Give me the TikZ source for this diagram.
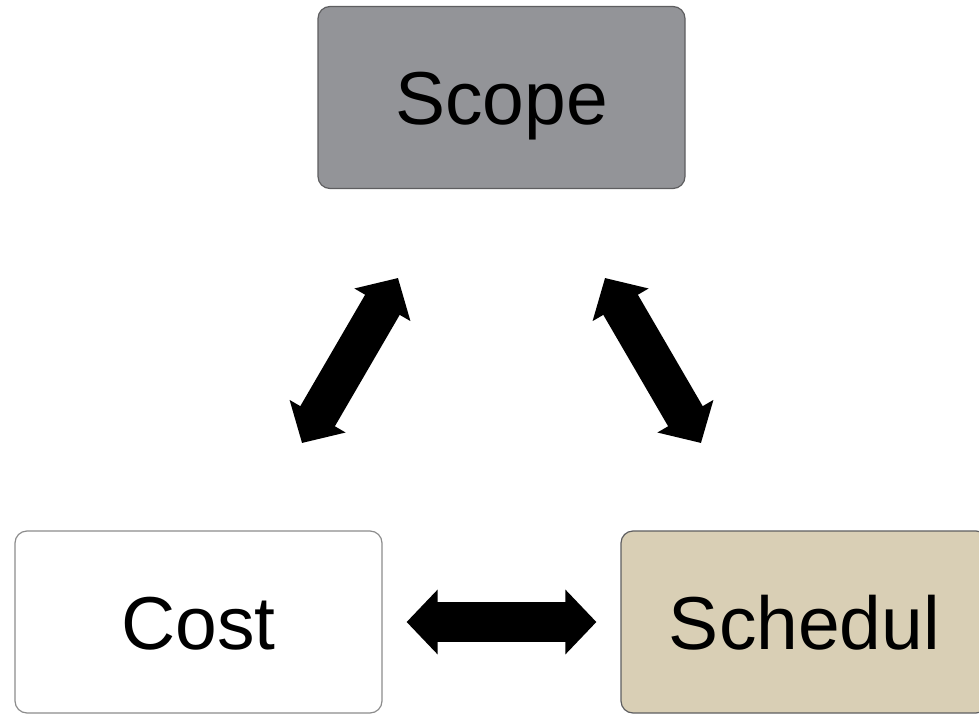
\documentclass[tikz,border=0pt]{standalone}
\usepackage{fontspec}
\setmainfont{Liberation Sans}
\usetikzlibrary{arrows.meta}

\definecolor{scopegray}{HTML}{939498}
\definecolor{schedtan}{HTML}{D9CFB5}
\definecolor{edgedark}{HTML}{5E5E60}
\definecolor{edgelight}{HTML}{8C8C8C}

\tikzset{
  box/.style={draw=edgedark, line width=1.2pt, rounded corners=12pt,
    minimum width=367pt, minimum height=182pt, inner sep=0pt,
    text height=54pt, text depth=0pt,
    font=\fontsize{75}{80}\selectfont},
  blockarrow/.style={line width=40pt,
    {Triangle[length=31pt,width=63pt]}-{Triangle[length=31pt,width=63pt]}}
}

\begin{document}
\begin{tikzpicture}[x=1pt,y=-1pt]
  \useasboundingbox (0,0) rectangle (979,714);

  % the three constraints
  \node[box, fill=scopegray] (scope) at (501.5,97.5) {Scope};
  \node[box, fill=white, draw=edgelight] (cost) at (198.5,622) {Cost};
  \node[box, fill=schedtan] (sched) at (804.5,622) {Schedul};

  % ends of the diagonal block arrows
  \coordinate (costtop) at (302,443);
  \coordinate (scopeleft) at (398,278);
  \coordinate (scoperight) at (605,278);
  \coordinate (schedtop) at (701,443);

  % two-way trade-off arrows
  \draw[blockarrow] (costtop) -- (scopeleft);
  \draw[blockarrow] (scoperight) -- (schedtop);
  \draw[blockarrow, shorten <=24pt, shorten >=24pt] (cost.east) -- (sched.west);
\end{tikzpicture}
\end{document}
